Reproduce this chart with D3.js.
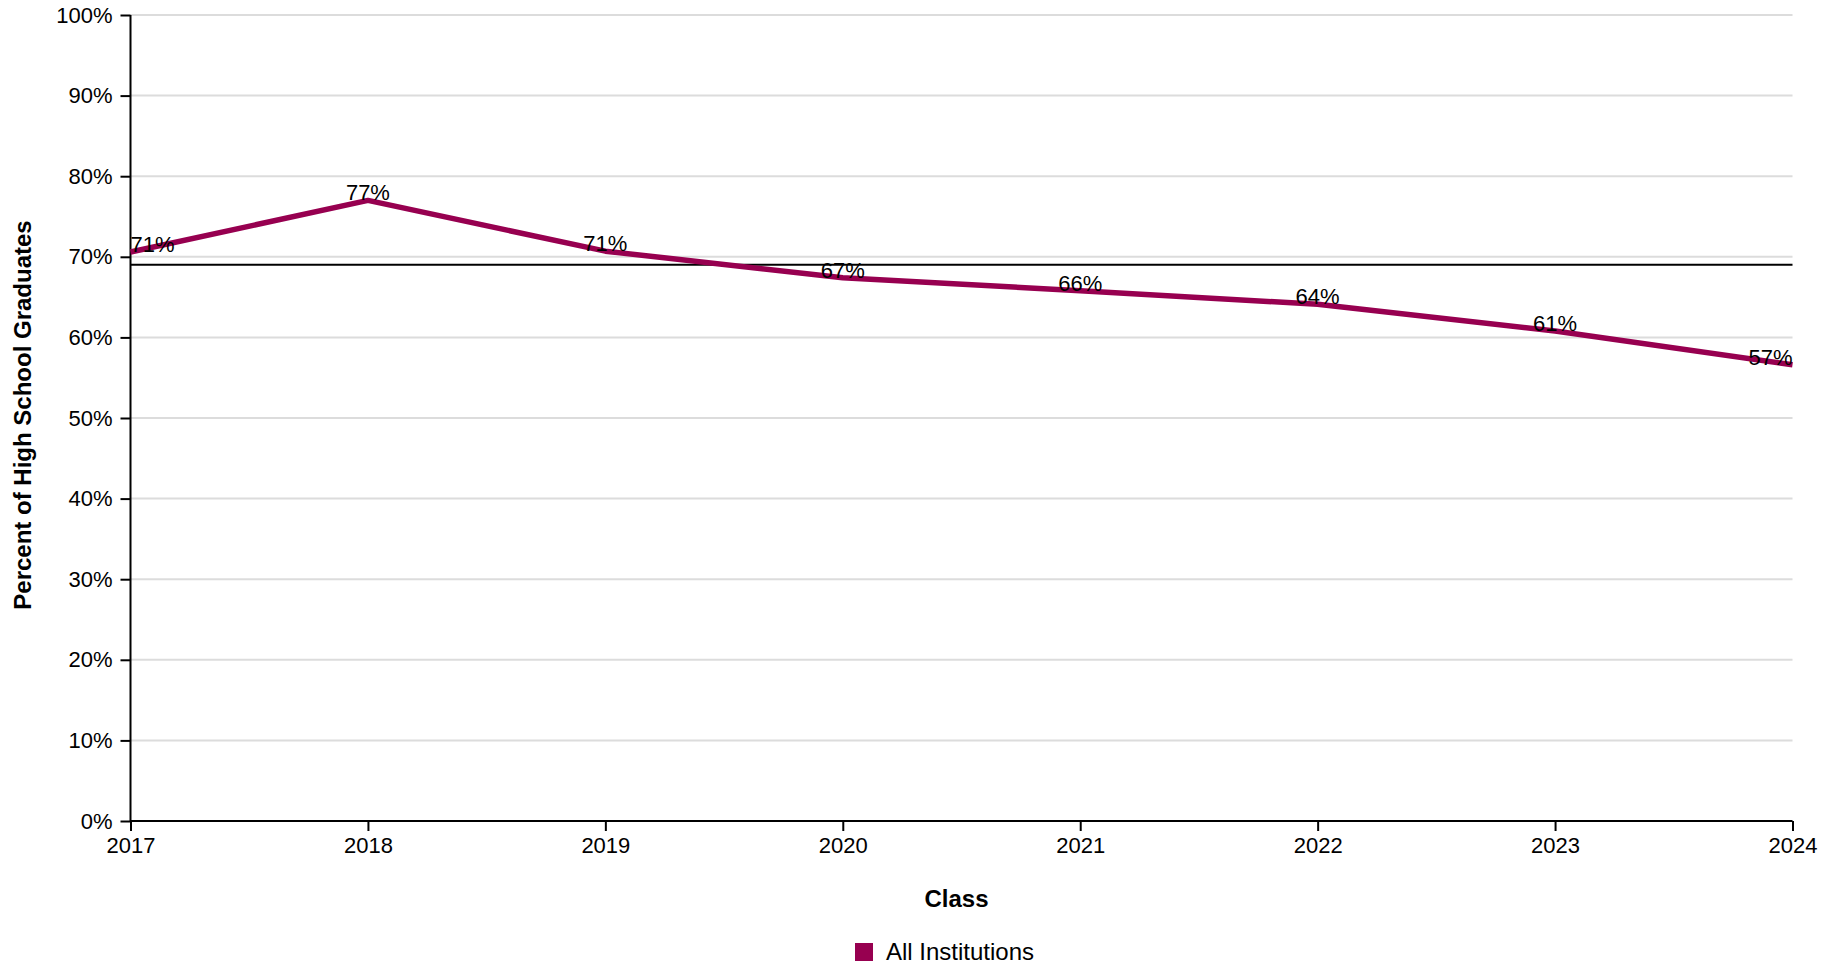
<!DOCTYPE html>
<html>
<head>
<meta charset="utf-8">
<script src="https://cdn.jsdelivr.net/npm/d3@7"></script>
<style>
  html, body { margin: 0; padding: 0; background: #fff; }
  svg { display: block; font-family: "Liberation Sans", Arial, Helvetica, sans-serif; }
</style>
</head>
<body>
<svg id="chart" width="1841" height="968"></svg>
<script>
const years = ["2017", "2018", "2019", "2020", "2021", "2022", "2023", "2024"];
const allInstitutions = [70.6, 77.0, 70.7, 67.4, 65.8, 64.1, 60.8, 56.6];
const referenceValue = [69.0];
const yTicks = [0, 10, 20, 30, 40, 50, 60, 70, 80, 90, 100];
const seriesName = "All Institutions";
const xTitle = "Class";
const yTitle = "Percent of High School Graduates";

const svg = d3.select("#chart");
const margin = { left: 130.5, right: 1841 - 1792.5, top: 15, bottom: 968 - 821 };
const W = 1841, H = 968;
const x0 = margin.left, x1 = W - margin.right, y0 = H - margin.bottom, y1 = margin.top;
const color = "#970050";

const x = d3.scalePoint().domain(years).range([x0, x1]);
const y = d3.scaleLinear().domain([0, 100]).range([y0, y1]);

// gridlines
svg.append("g").selectAll("line").data(yTicks.filter(d => d > 0)).join("line")
  .attr("x1", x0).attr("x2", x1)
  .attr("y1", d => y(d)).attr("y2", d => y(d))
  .attr("stroke", "#dcdcdc").attr("stroke-width", 2);

// y axis
const yAxis = svg.append("g").attr("transform", `translate(${x0},0)`)
  .call(d3.axisLeft(y).tickValues(yTicks).tickFormat(d => d + "%").tickSize(10).tickPadding(8));
yAxis.select(".domain").attr("stroke", "#000").attr("stroke-width", 2).attr("d", `M0,${y1}V${y0}`);
yAxis.selectAll(".tick line").attr("stroke", "#000").attr("stroke-width", 2);
yAxis.selectAll(".tick text").attr("font-size", 22).attr("fill", "#000").attr("font-family", "Liberation Sans, Arial, sans-serif");

// x axis
const xAxis = svg.append("g").attr("transform", `translate(0,${y0})`)
  .call(d3.axisBottom(x).tickSize(10).tickPadding(6));
xAxis.select(".domain").attr("stroke", "#000").attr("stroke-width", 2).attr("d", `M${x0},0H${x1}`);
xAxis.selectAll(".tick line").attr("stroke", "#000").attr("stroke-width", 2);
xAxis.selectAll(".tick text").attr("font-size", 22).attr("fill", "#000").attr("font-family", "Liberation Sans, Arial, sans-serif");

// reference line
svg.append("g").selectAll("line").data(referenceValue).join("line")
  .attr("x1", x0).attr("x2", x1)
  .attr("y1", d => y(d)).attr("y2", d => y(d))
  .attr("stroke", "#000").attr("stroke-width", 2);

// data line
const pts = years.map((yr, i) => ({ yr, v: allInstitutions[i] }));
svg.append("path").datum(pts)
  .attr("fill", "none").attr("stroke", color).attr("stroke-width", 5.5)
  .attr("stroke-linejoin", "round")
  .attr("d", d3.line().x(d => x(d.yr)).y(d => y(d.v)));

// data labels
const fmt = d3.format(".0f");
svg.append("g").selectAll("text").data(pts).join("text")
  .attr("font-size", 22).attr("fill", "#000")
  .attr("text-anchor", "middle")
  .attr("x", d => x(d.yr)).attr("y", d => y(d.v))
  .text(d => fmt(d.v) + "%")
  .each(function(d) {
    const w = this.getComputedTextLength();
    let cx = x(d.yr);
    if (cx - w / 2 < x0) cx = x0 + w / 2;
    if (cx + w / 2 > x1) cx = x1 - w / 2;
    d3.select(this).attr("x", cx);
  });

// axis titles
svg.append("text").attr("x", (x0 + x1) / 2 - 5).attr("y", 907)
  .attr("text-anchor", "middle").attr("font-size", 24).attr("font-weight", "bold").text(xTitle);
svg.append("text").attr("transform", `translate(31,${(y0 + y1) / 2 - 3}) rotate(-90)`)
  .attr("text-anchor", "middle").attr("font-size", 24).attr("font-weight", "bold").text(yTitle);

// legend
const lg = svg.append("g");
lg.append("rect").attr("x", 855).attr("y", 943).attr("width", 18).attr("height", 18).attr("fill", color);
lg.append("text").attr("x", 886).attr("y", 960).attr("font-size", 24).attr("fill", "#000").text(seriesName);
</script>
</body>
</html>
